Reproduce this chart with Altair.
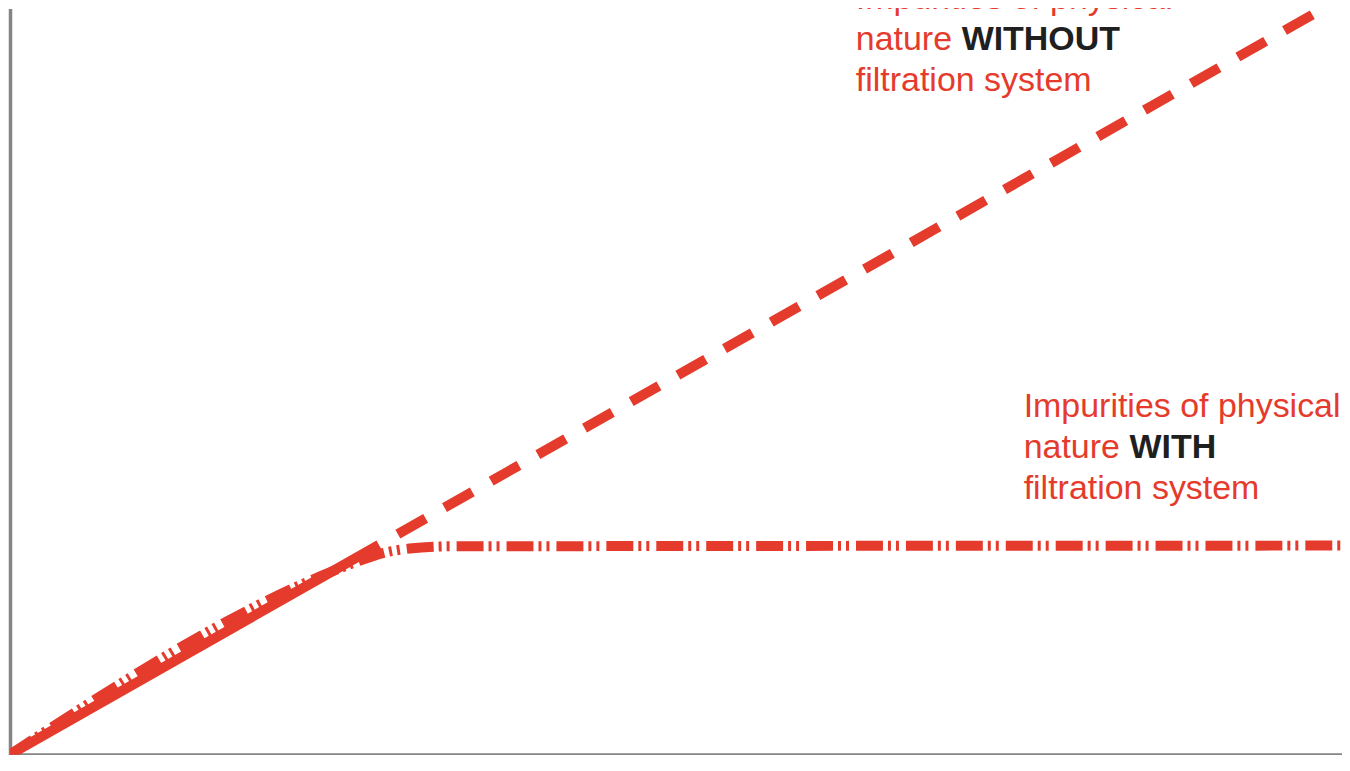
import altair as alt
import pandas as pd

# Series values (chart units: x and y both 0..100)
# WITHOUT filtration: straight growth; common (solid) part up to the split point
x_without = [0, 27.7, 97.8]
y_without = [0, 28.1, 99.2]

x_with = [0, 24.0, 26.0, 28.0, 30.0, 33.0, 100.5]
y_with = [0, 24.4, 25.8, 27.0, 27.6, 27.9, 28.0]

# Annotation texts and anchors
label_top_lines = ["Impurities of physical", "nature", "filtration system"]
label_top_bold = "WITHOUT"
label_top_x = 63.5
label_top_y = [99.9, 94.4, 89.0]

label_bot_lines = ["Impurities of physical", "nature", "filtration system"]
label_bot_bold = "WITH"
label_bot_x = 76.1
label_bot_y = [45.25, 39.8, 34.3]

RED = "#e53b2c"
BLACK = "#1f1f1f"
FONT = "Liberation Sans"

df_without_common = pd.DataFrame({"x": x_without[:2], "y": y_without[:2]})
df_without_rest = pd.DataFrame({"x": x_without[1:], "y": y_without[1:]})
df_with = pd.DataFrame({"x": x_with, "y": y_with})

red_text = pd.DataFrame({
    "x": [label_top_x] * 3 + [label_bot_x] * 3,
    "y": label_top_y + label_bot_y,
    "t": label_top_lines + label_bot_lines,
})
bold_text = pd.DataFrame({
    "x": [label_top_x, label_bot_x],
    "y": [label_top_y[1], label_bot_y[1]],
    "t": [label_top_bold, label_bot_bold],
})

xs = alt.Scale(domain=[0, 100], nice=False, zero=False)
ys = alt.Scale(domain=[0, 100], nice=False, zero=False)

axis_x = alt.Axis(labels=False, ticks=False, grid=False, title=None,
                  domainColor="#858585", domainWidth=3.5)
axis_y = alt.Axis(labels=False, ticks=False, grid=False, title=None,
                  domainColor="#858585", domainWidth=3.5)

common_line = alt.Chart(df_without_common).mark_line(
    color=RED, strokeWidth=10, strokeCap="butt", clip=True
).encode(
    x=alt.X("x:Q", scale=xs, axis=axis_x),
    y=alt.Y("y:Q", scale=ys, axis=axis_y),
)

without_line = alt.Chart(df_without_rest).mark_line(
    color=RED, strokeWidth=10, strokeDash=[32, 21.75], strokeDashOffset=32,
    strokeCap="butt", clip=True
).encode(
    x=alt.X("x:Q", scale=xs),
    y=alt.Y("y:Q", scale=ys),
)

with_line = alt.Chart(df_with).mark_line(
    color=RED, strokeWidth=10, strokeDash=[27, 5, 3, 5, 3, 7],
    strokeCap="butt", interpolate="monotone", clip=True
).encode(
    x=alt.X("x:Q", scale=xs),
    y=alt.Y("y:Q", scale=ys),
)

red_labels = alt.Chart(red_text).mark_text(
    align="left", baseline="alphabetic", font=FONT, fontSize=34, color=RED
).encode(
    x=alt.X("x:Q", scale=xs),
    y=alt.Y("y:Q", scale=ys),
    text="t:N",
)

bold_labels = alt.Chart(bold_text).mark_text(
    align="left", baseline="alphabetic", font=FONT, fontSize=34,
    fontWeight="bold", color=BLACK, dx=106
).encode(
    x=alt.X("x:Q", scale=xs),
    y=alt.Y("y:Q", scale=ys),
    text="t:N",
)

chart = alt.layer(common_line, without_line, with_line, red_labels, bold_labels).properties(
    width=1334, height=747,
    autosize=alt.AutoSizeParams(type="none"),
    padding={"left": 2, "top": 0, "right": 0, "bottom": 0},
    background="white",
).configure_view(stroke=None)

chart.save("out.html", embed_options={"renderer": "svg", "actions": False})
